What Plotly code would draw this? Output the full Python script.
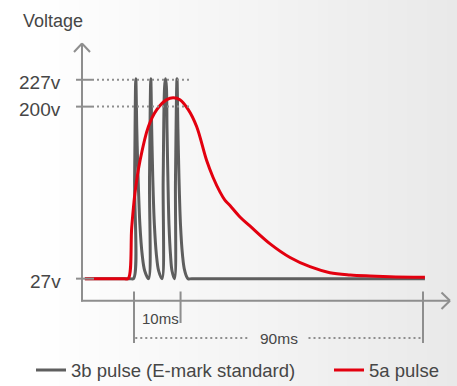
import plotly.graph_objects as go

W, H = 457, 386

# ---------------- data ----------------
# time in ms (0 = start of the pulse burst), voltage in volts
gray_t = [-15.3, -1.2, -0.16, 0.19, 0.56, 0.87, 1.28, 1.84, 2.55, 3.33, 4.52,
          4.83, 5.23, 5.51, 5.85, 6.35, 6.98, 7.66, 8.72,
          9.09, 9.53, 9.81, 10.09, 10.28, 10.56, 10.9, 11.37, 11.83, 12.61,
          12.92, 13.39, 13.67, 14.01, 14.48, 15.1, 15.79, 16.82, 18.0, 90.6]
gray_v = [27, 27, 27, 128, 228, 178, 128, 81, 51, 35, 27,
          128, 228, 178, 128, 81, 51, 35, 27,
          128, 220, 228, 220, 178, 128, 81, 51, 35, 27,
          128, 228, 178, 128, 81, 51, 35, 27, 27, 27]

red_t = [-15.3, -3.0, -1.8, -0.7, 0.3, 1.9, 4.5, 7.1, 10.2, 12.2, 14.3, 16.9,
         19.5, 22.6, 24.6, 26.8, 28.3, 29.9, 33.0, 36.1, 42.4, 48.6, 54.8, 61.0,
         67.3, 73.5, 79.7, 90.6]
red_v = [27, 27, 27, 79, 113, 146, 180, 197, 207, 209, 207, 197,
         180, 146, 129, 114, 106, 100.5, 89, 80, 62, 48.3, 39, 33,
         30.7, 29.7, 29, 28.4]

series_names = ["3b pulse (E-mark standard)", "5a pulse"]
volt_ticks = [27, 200, 227]
volt_labels = ["27v", "200v", "227v"]
guide_volts = [200, 227]
span_marks = [0, 14.5, 90]
span_labels = ["10ms", "90ms"]

# ---------------- layout constants ----------------
X0_PX, MS_PX = 134.0, 3.2111      # pixel of t=0, pixels per ms
V0_PX, V_PX = 305.5, 0.9944       # pixel of v=0, pixels per volt
x_range = [(0 - X0_PX) / MS_PX, (W - X0_PX) / MS_PX]
y_range = [(V0_PX - H) / V_PX, V0_PX / V_PX]


def px(x):
    return x / W


def py(y):
    return 1 - y / H


def xt(x):
    return (x - X0_PX) / MS_PX


AX = "#8e8e8e"
TXT = "#464646"
FONT = "Liberation Sans, Arial, Helvetica, sans-serif"
GRAY = "#5e5e5e"
RED = "#e3000f"

fig = go.Figure()
fig.add_trace(go.Scatter(x=gray_t, y=gray_v, mode="lines", name=series_names[0], legend="legend",
                         line=dict(color=GRAY, width=3, shape="spline", smoothing=1)))
fig.add_trace(go.Scatter(x=red_t, y=red_v, mode="lines", name=series_names[1], legend="legend2",
                         line=dict(color=RED, width=3, shape="spline", smoothing=1)))

shapes = []
# background gradient (white on the left to light grey on the right)
n = 46
for i in range(n):
    x0 = i * W / n
    x1 = (i + 1) * W / n
    xc = (x0 + x1) / 2
    f = max(0.0, (xc - 35) / (W - 35))
    c = round(255 - 22 * f)
    shapes.append(dict(type="rect", xref="x", yref="y", x0=xt(x0), x1=xt(x1 + 0.8),
                       y0=y_range[0], y1=y_range[1], fillcolor=f"rgb({c},{c},{c})",
                       line=dict(width=0), layer="below"))

axl = dict(color=AX, width=2)
# y axis + arrow
shapes.append(dict(type="line", xref="paper", yref="paper", x0=px(82), x1=px(82), y0=py(301.5), y1=py(43.5), line=axl))
shapes.append(dict(type="line", xref="paper", yref="paper", x0=px(74), x1=px(82), y0=py(52), y1=py(43.5), line=axl))
shapes.append(dict(type="line", xref="paper", yref="paper", x0=px(90), x1=px(82), y0=py(52), y1=py(43.5), line=axl))
# x axis + arrow
shapes.append(dict(type="line", xref="paper", yref="paper", x0=px(81), x1=px(450), y0=py(300.7), y1=py(300.7), line=axl))
shapes.append(dict(type="line", xref="paper", yref="paper", x0=px(441.5), x1=px(450), y0=py(292.5), y1=py(300.7), line=axl))
shapes.append(dict(type="line", xref="paper", yref="paper", x0=px(441.5), x1=px(450), y0=py(309), y1=py(300.7), line=axl))

# y ticks
for v in volt_ticks:
    shapes.append(dict(type="line", xref="paper", yref="y", x0=px(76), x1=px(94), y0=v, y1=v, line=axl))
# dotted guides
for v in guide_volts:
    shapes.append(dict(type="line", xref="paper", yref="y", x0=px(97), x1=px(191), y0=v, y1=v,
                       line=dict(color=AX, width=2, dash="2px,3px")))

# span markers
lows = [343, 323, 343]
for t, yb in zip(span_marks, lows):
    shapes.append(dict(type="line", xref="x", yref="paper", x0=t, x1=t, y0=py(291.5), y1=py(yb), line=axl))
mid = (span_marks[0] + span_marks[2]) / 2
gap = 30 / MS_PX
shapes.append(dict(type="line", xref="x", yref="paper", x0=span_marks[0] + 0.4, x1=mid - gap, y0=py(338), y1=py(338),
                   line=dict(color=AX, width=2, dash="2px,3px")))
shapes.append(dict(type="line", xref="x", yref="paper", x0=mid + gap, x1=span_marks[2] - 0.4, y0=py(338), y1=py(338),
                   line=dict(color=AX, width=2, dash="2px,3px")))

annotations = []
annotations.append(dict(text="Voltage", xref="paper", yref="paper", x=px(21), y=py(21), xanchor="left",
                        yanchor="middle", showarrow=False, font=dict(size=18, color=TXT, family=FONT)))
for v, lab in zip(volt_ticks, volt_labels):
    annotations.append(dict(text=lab, xref="paper", yref="y", x=px(63), y=v, xanchor="right", yanchor="middle",
                            yshift=-3, showarrow=False, font=dict(size=19, color=TXT, family=FONT)))
annotations.append(dict(text=span_labels[0], xref="x", yref="paper", x=span_marks[0] + 6 / MS_PX, y=py(318),
                        xanchor="left", yanchor="middle", showarrow=False, font=dict(size=15, color=TXT, family=FONT)))
annotations.append(dict(text=span_labels[1], xref="x", yref="paper", x=mid, y=py(338),
                        xanchor="center", yanchor="middle", showarrow=False, font=dict(size=15.5, color=TXT, family=FONT)))

leg_common = dict(orientation="h", xanchor="left", y=py(370.5), yanchor="middle",
                  bgcolor="rgba(0,0,0,0)", borderwidth=0,
                  font=dict(size=18.5, color=TXT, family=FONT), itemclick=False, itemdoubleclick=False)

fig.update_layout(
    width=W, height=H, autosize=False,
    margin=dict(l=0, r=0, t=0, b=0, autoexpand=False),
    paper_bgcolor="white", plot_bgcolor="rgba(0,0,0,0)",
    xaxis=dict(range=x_range, visible=False, fixedrange=True),
    yaxis=dict(range=y_range, visible=False, fixedrange=True),
    shapes=shapes, annotations=annotations,
    showlegend=True,
    legend=dict(x=px(31), **leg_common),
    legend2=dict(x=px(329), **leg_common),
    font=dict(family=FONT, color=TXT),
)

fig.write_html("out.html", post_script="document.body.style.margin='0';", config={"displayModeBar": False})
